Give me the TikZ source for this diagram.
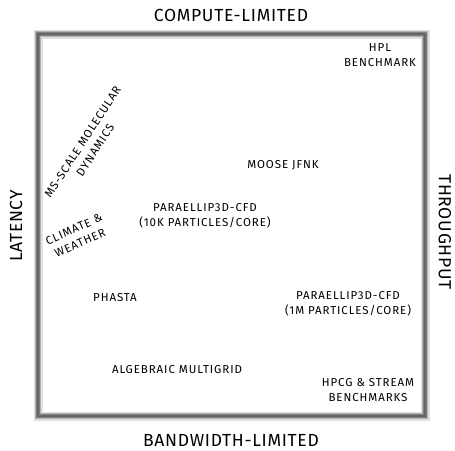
\documentclass[tikz,border=0pt]{standalone}
\usepackage{fontspec}
\setmainfont{Fira Sans}
\begin{document}
\begin{tikzpicture}[x=1pt,y=-1pt,
  lbl/.style={font=\fontsize{11.5}{15}\selectfont\addfontfeatures{LetterSpace=8}, align=center, inner sep=0pt},
  axis/.style={font=\fontsize{17.5}{20}\selectfont\addfontfeatures{LetterSpace=4}, inner sep=0pt}]
\useasboundingbox (0,0) rectangle (455,450);
% soft grey frame
\draw[line width=9pt, black!12] (38,34) rectangle (425,416);
\draw[line width=6.5pt, black!30] (38,34) rectangle (425,416);
\draw[line width=4pt, black!50] (38,34) rectangle (425,416);
\draw[line width=2pt, black!60] (38,34) rectangle (425,416);
% axis titles
\node[axis] (top) at (231,15) {COMPUTE-LIMITED};
\node[axis] (bottom) at (231,440) {BANDWIDTH-LIMITED};
\node[axis, rotate=90] (left) at (16,226) {LATENCY};
\node[axis, rotate=-90] (right) at (445,232) {THROUGHPUT};
% applications
\node[lbl] (hpl) at (380,55) {HPL\\BENCHMARK};
\node[lbl, rotate=57] (md) at (89,146) {MS-SCALE MOLECULAR\\DYNAMICS};
\node[lbl] (moose) at (283,165) {MOOSE JFNK};
\node[lbl] (pe10k) at (205,216) {PARAELLIP3D-CFD\\(10K PARTICLES/CORE)};
\node[lbl, rotate=24] (climate) at (77,236) {CLIMATE \&\\WEATHER};
\node[lbl] (phasta) at (115,298) {PHASTA};
\node[lbl] (pe1m) at (348,304) {PARAELLIP3D-CFD\\(1M PARTICLES/CORE)};
\node[lbl] (amg) at (177,370) {ALGEBRAIC MULTIGRID};
\node[lbl] (hpcg) at (368,390) {HPCG \& STREAM\\BENCHMARKS};
\end{tikzpicture}
\end{document}
